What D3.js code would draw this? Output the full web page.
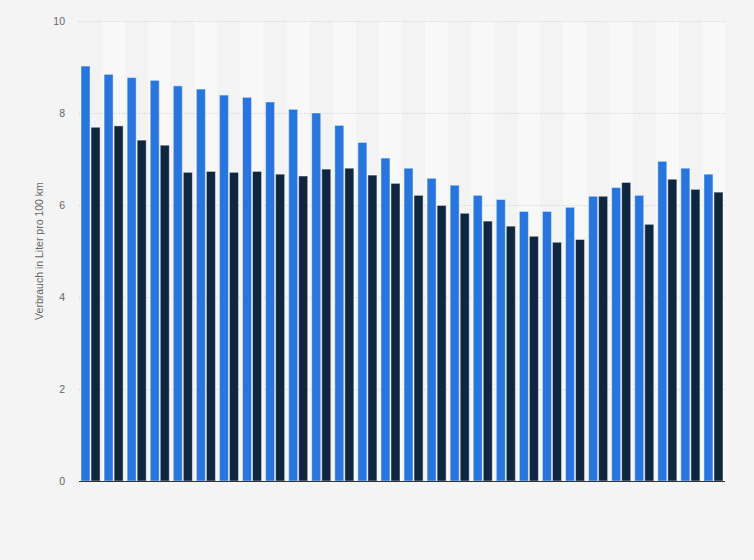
<!DOCTYPE html>
<html>
<head>
<meta charset="utf-8">
<script src="https://cdn.jsdelivr.net/npm/d3@7"></script>
<style>
  html, body { margin: 0; padding: 0; background: #f4f4f4; }
  svg { display: block; }
</style>
</head>
<body>
<svg id="chart" width="754" height="560"></svg>
<script>
const categories = ["1","2","3","4","5","6","7","8","9","10","11","12","13","14","15","16","17","18","19","20","21","22","23","24","25","26","27","28"];
const seriesA = [9.02, 8.84, 8.77, 8.71, 8.59, 8.52, 8.39, 8.34, 8.24, 8.08, 8.00, 7.73, 7.36, 7.02, 6.80, 6.58, 6.43, 6.21, 6.12, 5.86, 5.86, 5.95, 6.19, 6.38, 6.21, 6.95, 6.80, 6.67];
const seriesB = [7.69, 7.72, 7.41, 7.30, 6.71, 6.73, 6.71, 6.73, 6.67, 6.63, 6.78, 6.80, 6.65, 6.47, 6.21, 5.99, 5.82, 5.65, 5.54, 5.32, 5.19, 5.25, 6.19, 6.49, 5.58, 6.56, 6.34, 6.28];
const yTicks = [0, 2, 4, 6, 8, 10];
const yLabel = "Verbrauch in Liter pro 100 km";
const seriesKeys = ["A", "B"];
const colors = { A: "#2876dd", B: "#0f2640" };

const svg = d3.select("#chart");
const margin = { left: 79, right: 29, top: 21, bottom: 79 };
const W = 754, H = 560;

const x = d3.scaleBand().domain(categories).range([margin.left, W - margin.right]).paddingInner(0).paddingOuter(0);
const xi = d3.scaleBand().domain(seriesKeys).range([0, x.bandwidth()]).paddingInner(0.1).paddingOuter(0.2);
const y = d3.scaleLinear().domain([0, 10]).range([H - margin.bottom, margin.top]);

// stripes
svg.append("g").selectAll("rect").data(categories).join("rect")
  .attr("x", d => x(d)).attr("y", y(10))
  .attr("width", x.bandwidth()).attr("height", y(0) - y(10))
  .attr("fill", (d, i) => i % 2 === 0 ? "#f3f3f3" : "#f8f8f8");

// gridlines
svg.append("g").selectAll("line").data(yTicks.filter(t => t > 0)).join("line")
  .attr("x1", margin.left).attr("x2", W - margin.right)
  .attr("y1", d => y(d) + 0.5).attr("y2", d => y(d) + 0.5)
  .attr("stroke", "#d2d2d2").attr("stroke-width", 1).attr("stroke-dasharray", "1,1.5");

// y axis labels
const yAxis = d3.axisLeft(y).tickValues(yTicks).tickSize(0).tickPadding(0).tickFormat(d3.format("d"));
const ya = svg.append("g").attr("transform", `translate(${margin.left - 14},0)`).call(yAxis);
ya.select(".domain").remove();
ya.selectAll("text").attr("fill", "#666").attr("font-family", "Liberation Sans, Arial, sans-serif").attr("font-size", 10.5);

// bars
const data = categories.map((c, i) => ({ c, A: seriesA[i], B: seriesB[i] }));
const groups = svg.append("g").selectAll("g").data(data).join("g")
  .attr("transform", d => `translate(${x(d.c)},0)`);
groups.selectAll("rect").data(d => seriesKeys.map(k => ({ k, v: d[k] }))).join("rect")
  .attr("x", d => xi(d.k)).attr("width", xi.bandwidth())
  .attr("y", d => y(d.v)).attr("height", d => y(0) - y(d.v))
  .attr("fill", d => colors[d.k])
  .attr("stroke", "#ffffff").attr("stroke-opacity", 0.45).attr("stroke-width", 1);

// baseline
svg.append("line")
  .attr("x1", margin.left).attr("x2", W - margin.right)
  .attr("y1", y(0) + 0.5).attr("y2", y(0) + 0.5)
  .attr("stroke", "#333").attr("stroke-width", 1);

// y label
svg.append("text")
  .attr("transform", `translate(43,${(y(0) + y(10)) / 2}) rotate(-90)`)
  .attr("text-anchor", "middle")
  .attr("fill", "#666").attr("font-family", "Liberation Sans, Arial, sans-serif").attr("font-size", 10.5)
  .text(yLabel);
</script>
</body>
</html>
